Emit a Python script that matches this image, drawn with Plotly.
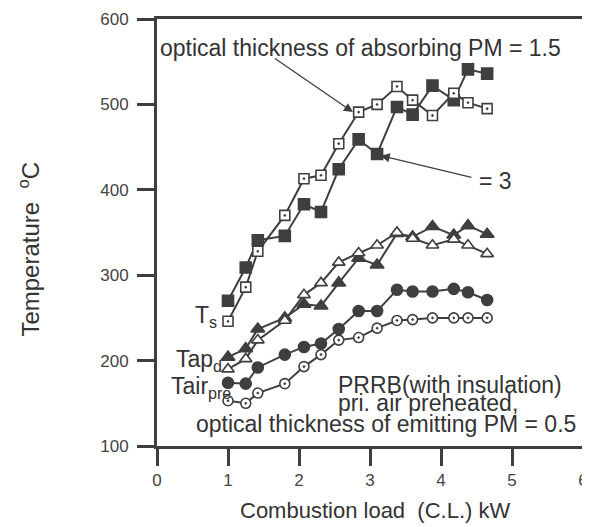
import plotly.graph_objects as go

# ---- data ----
load_kw = [1.0, 1.25, 1.42, 1.8, 2.07, 2.31, 2.56, 2.84, 3.1, 3.38, 3.6, 3.88, 4.18, 4.38, 4.65]

ts_tau3 = [270, 309, 341, 346, 383, 374, 424, 459, 442, 497, 488, 522, 505, 541, 536]
ts_tau15 = [246, 286, 328, 370, 413, 417, 454, 491, 500, 521, 505, 487, 513, 502, 495]
tapd_tau3 = [204, 214, 237, 250, 266, 264, 291, 320, 312, 349, 345, 357, 347, 358, 348]
tapd_tau15 = [190, 202, 224, 247, 277, 291, 315, 326, 335, 350, 343, 335, 342, 335, 325]
tair_tau3 = [174, 173, 192, 207, 216, 220, 237, 258, 258, 283, 281, 281, 284, 280, 271]
tair_tau15 = [153, 150, 162, 173, 193, 207, 224, 227, 238, 247, 248, 250, 250, 250, 250]

x_ticks = [0, 1, 2, 3, 4, 5, 6]
y_ticks = [100, 200, 300, 400, 500, 600]

DARK = "#3f3f3f"
TXT = "#333333"
FONT = "Liberation Sans, Arial, sans-serif"

fig = go.Figure()

series = [
    ("Ts, tau=3", ts_tau3, "square", DARK, 11),
    ("Ts, tau=1.5", ts_tau15, "square-dot", "white", 10),
    ("Tapd, tau=3", tapd_tau3, "triangle-up", DARK, 12),
    ("Tapd, tau=1.5", tapd_tau15, "triangle-up", "white", 11),
    ("Tair_pre, tau=3", tair_tau3, "circle", DARK, 11),
    ("Tair_pre, tau=1.5", tair_tau15, "circle-dot", "white", 10),
]
for name, ys, sym, fill, size in series:
    fig.add_trace(go.Scatter(
        x=load_kw, y=ys, name=name, mode="lines+markers",
        line=dict(color=DARK, width=2),
        marker=dict(symbol=sym, size=size, color=fill,
                    line=dict(color=DARK, width=1.6)),
        showlegend=False,
    ))

axis_common = dict(
    showline=True, linewidth=3, linecolor=DARK, mirror=True,
    ticks="outside", ticklen=17, tickwidth=3, tickcolor=DARK,
    showgrid=False, zeroline=False, ticklabeloverflow="allow",
    tickfont=dict(family=FONT, size=17, color="#444444"),
)

# the page body has an 8px default margin, so the figure is shrunk by 8px
fig.update_layout(
    width=582, height=519,
    margin=dict(l=149, r=2, t=6, b=81),
    paper_bgcolor="white", plot_bgcolor="white",
    xaxis=dict(range=[0, 6], tickvals=x_ticks, **axis_common),
    yaxis=dict(range=[100, 600], tickvals=y_ticks, ticklabelstandoff=5, **axis_common),
    font=dict(family=FONT, color=TXT),
)

ann = []
# axis titles
ann.append(dict(text="Combustion load  (C.L.) kW", xref="paper", yref="paper",
                x=0.512, y=0, yshift=-64, showarrow=False,
                font=dict(size=22, color=TXT), xanchor="center", yanchor="middle"))
ann.append(dict(text="Temperature  <sup>o</sup>C", xref="paper", yref="paper",
                x=0, xshift=-128, y=0.46, showarrow=False, textangle=-90,
                font=dict(size=24, color=TXT), xanchor="center", yanchor="middle"))

# in-plot texts
ann.append(dict(text="optical thickness of absorbing PM = 1.5", x=5.72, y=566,
                xanchor="right", yanchor="middle", showarrow=False,
                font=dict(size=23, color=TXT)))
ann.append(dict(text="= 3", x=4.5, y=410, xanchor="left", yanchor="middle",
                showarrow=False, font=dict(size=23, color=TXT)))
ann.append(dict(text="T<sub>s</sub>", x=0.88, y=252, xanchor="right", yanchor="middle",
                showarrow=False, font=dict(size=23, color=TXT)))
ann.append(dict(text="Tap<sub>d</sub>", x=0.95, y=200, xanchor="right", yanchor="middle",
                showarrow=False, font=dict(size=23, color=TXT)))
ann.append(dict(text="Tair<sub>pre</sub>", x=1.07, y=168, xanchor="right", yanchor="middle",
                showarrow=False, font=dict(size=23, color=TXT)))
ann.append(dict(text="PRRB(with insulation)", x=2.52, y=171, xanchor="left", yanchor="middle",
                showarrow=False, font=dict(size=23, color=TXT)))
ann.append(dict(text="pri. air preheated,", x=2.52, y=150, xanchor="left", yanchor="middle",
                showarrow=False, font=dict(size=23, color=TXT)))
ann.append(dict(text="optical thickness of emitting PM = 0.5", x=5.93, y=126,
                xanchor="right", yanchor="middle", showarrow=False,
                font=dict(size=23, color=TXT)))

# arrows
ann.append(dict(text="", x=2.76, y=491, ax=1.64, ay=555, axref="x", ayref="y",
                showarrow=True, arrowhead=2, arrowsize=1.4, arrowwidth=1.3, arrowcolor=DARK))
ann.append(dict(text="", x=3.15, y=440, ax=4.45, ay=414, axref="x", ayref="y",
                showarrow=True, arrowhead=2, arrowsize=1.4, arrowwidth=1.3, arrowcolor=DARK))

fig.update_layout(annotations=ann)

fig.write_html("out.html")
